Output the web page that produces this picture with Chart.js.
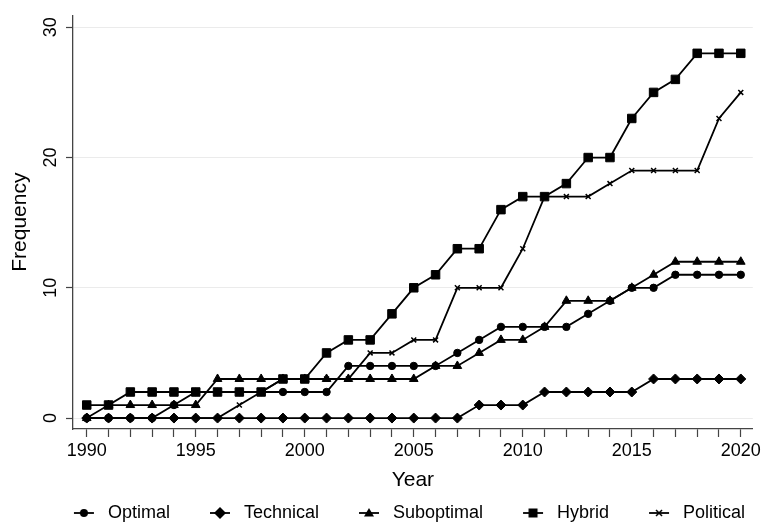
<!DOCTYPE html>
<html><head><meta charset="utf-8">
<script src="https://cdn.jsdelivr.net/npm/chart.js@4.4.0/dist/chart.umd.min.js"></script>
<style>html,body{margin:0;padding:0;background:#fff}</style>
</head><body>
<canvas id="c" width="764" height="522" style="width:764px;height:522px;display:block"></canvas>
<script>
const years = [1990,1991,1992,1993,1994,1995,1996,1997,1998,1999,2000,2001,2002,2003,2004,2005,2006,2007,2008,2009,2010,2011,2012,2013,2014,2015,2016,2017,2018,2019,2020];
const optimal    = [0,0,0,0,1,2,2,2,2,2,2,2,4,4,4,4,4,5,6,7,7,7,7,8,9,10,10,11,11,11,11];
const technical  = [0,0,0,0,0,0,0,0,0,0,0,0,0,0,0,0,0,0,1,1,1,2,2,2,2,2,3,3,3,3,3];
const suboptimal = [0,1,1,1,1,1,3,3,3,3,3,3,3,3,3,3,4,4,5,6,6,7,9,9,9,10,11,12,12,12,12];
const hybrid     = [1,1,2,2,2,2,2,2,2,3,3,5,6,6,8,10,11,13,13,16,17,17,18,20,20,23,25,26,28,28,28];
const political  = [0,0,0,0,0,0,0,1,2,3,3,3,3,5,5,6,6,10,10,10,13,17,17,17,18,19,19,19,19,23,25];
const yTicks = [0,10,20,30];
const xLabelEvery = 5;

const FONT = "'Liberation Sans', Arial, Helvetica, sans-serif";

function pts(vals){ return vals.map((v,i)=>({x:years[i], y:v})); }

function legendImg(style){
  const c = document.createElement('canvas');
  c.width = 65; c.height = 16;
  const g = c.getContext('2d');
  g.strokeStyle = '#000'; g.fillStyle = '#000'; g.lineWidth = 1.8;
  g.beginPath(); g.moveTo(40,8); g.lineTo(60,8); g.stroke();
  const cx = 50, cy = 8;
  g.beginPath();
  if (style === 'circle') { g.arc(cx,cy,4,0,Math.PI*2); g.fill(); }
  else if (style === 'rectRot') { g.moveTo(cx,cy-6); g.lineTo(cx+6,cy); g.lineTo(cx,cy+6); g.lineTo(cx-6,cy); g.closePath(); g.fill(); }
  else if (style === 'triangle') { g.moveTo(cx,cy-5); g.lineTo(cx+5,cy+3.5); g.lineTo(cx-5,cy+3.5); g.closePath(); g.fill(); }
  else if (style === 'rect') { g.rect(cx-4.5,cy-4.5,9,9); g.fill(); }
  else if (style === 'crossRot') { g.lineWidth=1.5; g.moveTo(cx-3,cy-3); g.lineTo(cx+3,cy+3); g.moveTo(cx+3,cy-3); g.lineTo(cx-3,cy+3); g.stroke(); }
  return c;
}

function ds(label, vals, style, radius, order){
  return {
    label, data: pts(vals), order,
    borderColor:'#000', backgroundColor:'#000', borderWidth:1.8,
    pointStyle: style, pointRadius: radius, pointBorderWidth: style==='crossRot'?1.5:1,
    pointBackgroundColor:'#000', pointBorderColor:'#000',
    tension:0, fill:false
  };
}

const legendShift = {
  id:'legendShift',
  afterLayout(chart){
    const l = chart.legend; if(!l) return;
    l.left += 13; l.right += 13;
    l.top += 10; l.bottom += 10;
  }
};

new Chart(document.getElementById('c'), {
  type:'line',
  data:{ datasets:[
    ds('Optimal', optimal, 'circle', 3.7, 0),
    ds('Technical', technical, 'rectRot', 5, 3),
    ds('Suboptimal', suboptimal, 'triangle', 5, 2),
    ds('Hybrid', hybrid, 'rect', 6, 1),
    ds('Political', political, 'crossRot', 3.5, 4)
  ]},
  options:{
    responsive:false, animation:false, devicePixelRatio:1,
    layout:{ padding:{ top:13, right:11, left:0, bottom:0 } },
    plugins:{
      tooltip:{enabled:false},
      legend:{
        position:'bottom',
        labels:{
          usePointStyle:true, pointStyleWidth:65, padding:0,
          color:'#000', font:{family:FONT, size:18},
          generateLabels(chart){
            return chart.data.datasets.map((d,i)=>({
              text:d.label, pointStyle:legendImg(d.pointStyle), fillStyle:'#000',
              strokeStyle:'#000', lineWidth:0, hidden:false, datasetIndex:i, fontColor:'#000'
            }));
          }
        }
      }
    },
    scales:{
      x:{
        type:'linear', min:1989.37, max:2020.55,
        afterBuildTicks(s){ s.ticks = years.map(v=>({value:v})); },
        afterFit(s){ s.height = 65; },
        grid:{ drawOnChartArea:false, drawTicks:true, tickLength:8, tickColor:'#444', tickWidth:1.2 },
        border:{ color:'#444', width:1.3 },
        ticks:{ autoSkip:false, maxRotation:0, minRotation:0, padding:3, color:'#000',
          font:{family:FONT, size:18},
          callback:(v)=> (v % xLabelEvery === 0 ? String(v) : '') },
        title:{ display:true, text:'Year', color:'#000', font:{family:FONT, size:21}, padding:{top:0,bottom:1} }
      },
      y:{
        type:'linear', min:-0.84, max:30.92,
        afterBuildTicks(s){ s.ticks = yTicks.map(v=>({value:v})); },
        afterFit(s){ s.width = 73; },
        grid:{ color:'#ebebeb', lineWidth:1, drawTicks:true, tickLength:7, tickColor:'#444', tickWidth:1.2 },
        border:{ color:'#444', width:1.3 },
        ticks:{ minRotation:90, maxRotation:90, crossAlign:'center', padding:4.5, color:'#000',
          font:{family:FONT, size:18}, callback:(v)=>String(v) },
        title:{ display:true, text:'Frequency', color:'#000', font:{family:FONT, size:21}, padding:{top:8,bottom:0} }
      }
    }
  },
  plugins:[legendShift]
});
</script>
</body></html>
